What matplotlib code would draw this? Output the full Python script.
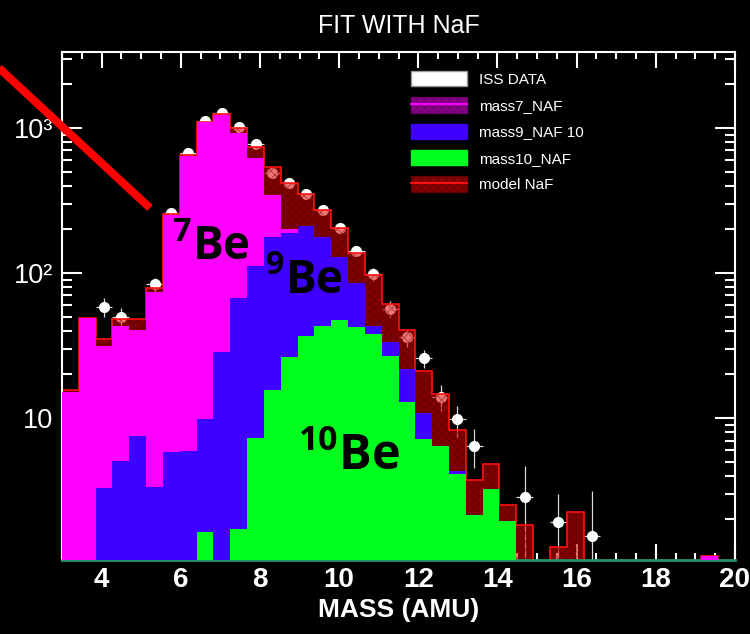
import numpy as np
import matplotlib
matplotlib.use('Agg')
import matplotlib.pyplot as plt
from matplotlib.patches import Patch
from matplotlib.lines import Line2D
from matplotlib.ticker import MultipleLocator, LogLocator, FixedLocator, FixedFormatter, NullFormatter

plt.rcParams['mathtext.fontset'] = 'custom'
plt.rcParams['mathtext.rm'] = 'Open Sans:bold'
plt.rcParams['mathtext.it'] = 'Open Sans:bold'
plt.rcParams['mathtext.bf'] = 'Open Sans:bold'
plt.rcParams['hatch.linewidth'] = 0.6

nan = np.nan

# binning of the mass axis (AMU)
mass_min, mass_max, n_bins = 3.0, 20.0, 40

# ISS data points, one per bin (nan = no point)
iss_data = [nan, nan, 58.6, 50, nan, 83.6, 259, 670, 1117, 1262,
            1011, 776, 492, 415, 349, 272, 205, 142, 98, 56.5,
            36.1, 25.8, 14.0, 9.8, 6.44, nan, nan, 2.84, nan, 1.91,
            nan, 1.54, nan, nan, nan, nan, nan, nan, nan, nan]
iss_err = [nan, nan, 8.5, 7.5, nan, 9.5, 16, 26, 33, 35,
           32, 28, 22, 20, 19, 16.5, 14, 12, 10, 7.5,
           5.0, 3.5, 2.8, 2.4, 1.95, nan, nan, 1.8, nan, 1.1,
           nan, 1.6, nan, nan, nan, nan, nan, nan, nan, nan]

# fitted templates
mass7 = [15.1, 48.7, 31.5, 43, 40.5, 74, 251, 641, 1094, 1236,
         918, 618, 345, 200, 100, 50, 27, 10, 16, 1,
         6, 3.2, 1.5, 0, 0, 0, 0, 0, 0, 0,
         0, 0, 0, 0, 0, 0, 0, 0, 1.12, 0]
mass9 = [0, 0, 3.27, 5.05, 7.55, 3.33, 5.8, 5.95, 9.8, 28.4,
         67, 112, 178, 190, 212, 178, 129, 85, 43.1, 33.6,
         21.7, 10.8, 5.0, 4.3, 1.5, 1.2, 0, 0, 0, 0,
         0, 0, 0, 0, 0, 0, 0, 0, 0, 0]
mass10 = [0, 0, 0, 0, 0, 0, 0, 0, 1.63, 0,
          1.71, 7.24, 15.6, 26.2, 36.8, 43.1, 47.4, 42.2, 37.9, 26.8,
          12.9, 7.2, 6.44, 4.11, 2.14, 3.24, 1.96, 0, 0, 0,
          0, 0, 0, 0, 0, 0, 0, 0, 0, 0]
model = [15.5, 49, 35, 48, 48, 79, 256, 650, 1105, 1245,
         995, 736, 536, 415, 349, 271, 203, 137, 97, 60.8,
         40.5, 21.2, 14.6, 8.27, 3.73, 4.82, 2.5, 1.84, 0, 1.29,
         2.25, 0, 0, 0, 0, 0, 0, 0, 1.12, 0]

legend_labels = ['ISS DATA', 'mass7_NAF', 'mass9_NAF 10', 'mass10_NAF', 'model NaF']

edges = np.linspace(mass_min, mass_max, n_bins + 1)
centers = 0.5 * (edges[:-1] + edges[1:])
half_w = 0.5 * (edges[1] - edges[0])
floor = 1e-2


def clip(v):
    v = np.asarray(v, dtype=float)
    return np.where(v > 0, v, floor)


fig = plt.figure(figsize=(7.5, 6.34), dpi=100, facecolor='black')
ax = fig.add_axes([0.0827, 0.1167, 0.8973, 0.8013], facecolor='black')
ax.set_yscale('log')

# data points (under the model so they look pink inside it)
d = np.asarray(iss_data, dtype=float)
e = np.asarray(iss_err, dtype=float)
ok = ~np.isnan(d)
ax.errorbar(centers[ok], d[ok], xerr=half_w, yerr=e[ok], fmt='o', color='white',
            ms=7, mec='white', ecolor='#d8d8d8', elinewidth=0.9, capsize=0, zorder=1)

# model: semi-transparent hatched dark red + red outline
ax.stairs(clip(model), edges, baseline=floor, fill=True,
          facecolor=(0.9, 0.0, 0.0, 0.55), edgecolor=(0.3, 0.0, 0.0, 0.45),
          hatch='xxxx', linewidth=0, zorder=2)
ax.stairs(clip(model), edges, baseline=floor, fill=False, color='#ff1010', lw=1.2, zorder=2.5)

ax.stairs(clip(mass7), edges, baseline=floor, fill=True, color='#ff00ff', lw=0, zorder=3)
ax.stairs(clip(mass9), edges, baseline=floor, fill=True, color='#4000ff', lw=0, zorder=4)
ax.stairs(clip(mass10), edges, baseline=floor, fill=True, color='#00ff1e', lw=0, zorder=5)

ax.set_xlim(mass_min, mass_max)
ax.set_ylim(1.05, 3340)

# ticks
ax.xaxis.set_major_locator(MultipleLocator(2))
ax.xaxis.set_minor_locator(MultipleLocator(0.5))
ax.yaxis.set_major_locator(FixedLocator([10, 100, 1000]))
ax.yaxis.set_major_formatter(FixedFormatter(['10', '10²', '10³']))
ax.yaxis.set_minor_locator(LogLocator(base=10, subs=np.arange(2, 10)))
ax.yaxis.set_minor_formatter(NullFormatter())
ax.tick_params(axis='both', which='both', direction='in', colors='white',
               top=True, right=True, width=1.5)
ax.tick_params(axis='x', which='major', length=11.5, pad=5)
ax.tick_params(axis='x', which='minor', length=5)
ax.tick_params(axis='y', which='major', length=14.4, pad=6.5)
ax.tick_params(axis='y', which='minor', length=7.2)
for lab in ax.get_xticklabels():
    lab.set_fontfamily('Liberation Sans')
    lab.set_fontweight('bold')
    lab.set_fontsize(20)
for lab in ax.get_yticklabels():
    lab.set_fontfamily('Liberation Sans')
    lab.set_fontsize(19.5)

for side in ['left', 'top', 'right']:
    ax.spines[side].set_color('white')
    ax.spines[side].set_linewidth(1.5)
ax.spines['bottom'].set_color('#21946c')
ax.spines['bottom'].set_linewidth(2)

ax.set_xlabel('MASS (AMU)', color='white', fontsize=19, fontweight='bold',
              family='Liberation Sans')
ax.xaxis.set_label_coords(0.5, -0.075)
ax.set_title('FIT WITH NaF', color='white', fontsize=18, family='Liberation Sans', pad=14)

# isotope labels
ax.text(5.78, 123, r'$^{7}$Be', fontsize=33, fontweight='bold', family='Open Sans',
        color='black', ha='left', va='baseline', zorder=6)
ax.text(8.13, 72.8, r'$^{9}$Be', fontsize=33, fontweight='bold', family='Open Sans',
        color='black', ha='left', va='baseline', zorder=6)
ax.text(8.96, 4.38, r'$^{10}$Be', fontsize=35, fontweight='bold', family='Open Sans',
        color='black', ha='left', va='baseline', zorder=6)

# legend
handles = [
    Patch(facecolor='white', edgecolor='#999999'),
    (Patch(facecolor='#8b008b', edgecolor='#6a006a', hatch='xxxx'),
     Line2D([], [], color='#ff00ff', lw=1.5)),
    Patch(facecolor='#4000ff', edgecolor='#4000ff'),
    Patch(facecolor='#00ff1e', edgecolor='#00ff1e'),
    (Patch(facecolor='#8b0000', edgecolor='#600000', hatch='xxxx'),
     Line2D([], [], color='#ff1010', lw=1.5)),
]
leg = fig.legend(handles, legend_labels, loc='upper left',
                 bbox_to_anchor=(411 / 750, 1 - 71 / 634), frameon=False,
                 prop={'family': 'Liberation Sans', 'size': 11},
                 labelcolor='white', handlelength=3.66, handleheight=1.18,
                 labelspacing=0.68, handletextpad=0.78, borderpad=0, borderaxespad=0)

# red arrow line pointing at the peak
fig.add_artist(Line2D([-0.01, 0.2], [1 - 62 / 634, 1 - 208 / 634], color='#ff0000',
                      lw=5.8, solid_capstyle='butt', transform=fig.transFigure))

fig.savefig('out.png', dpi=100, facecolor='black')
